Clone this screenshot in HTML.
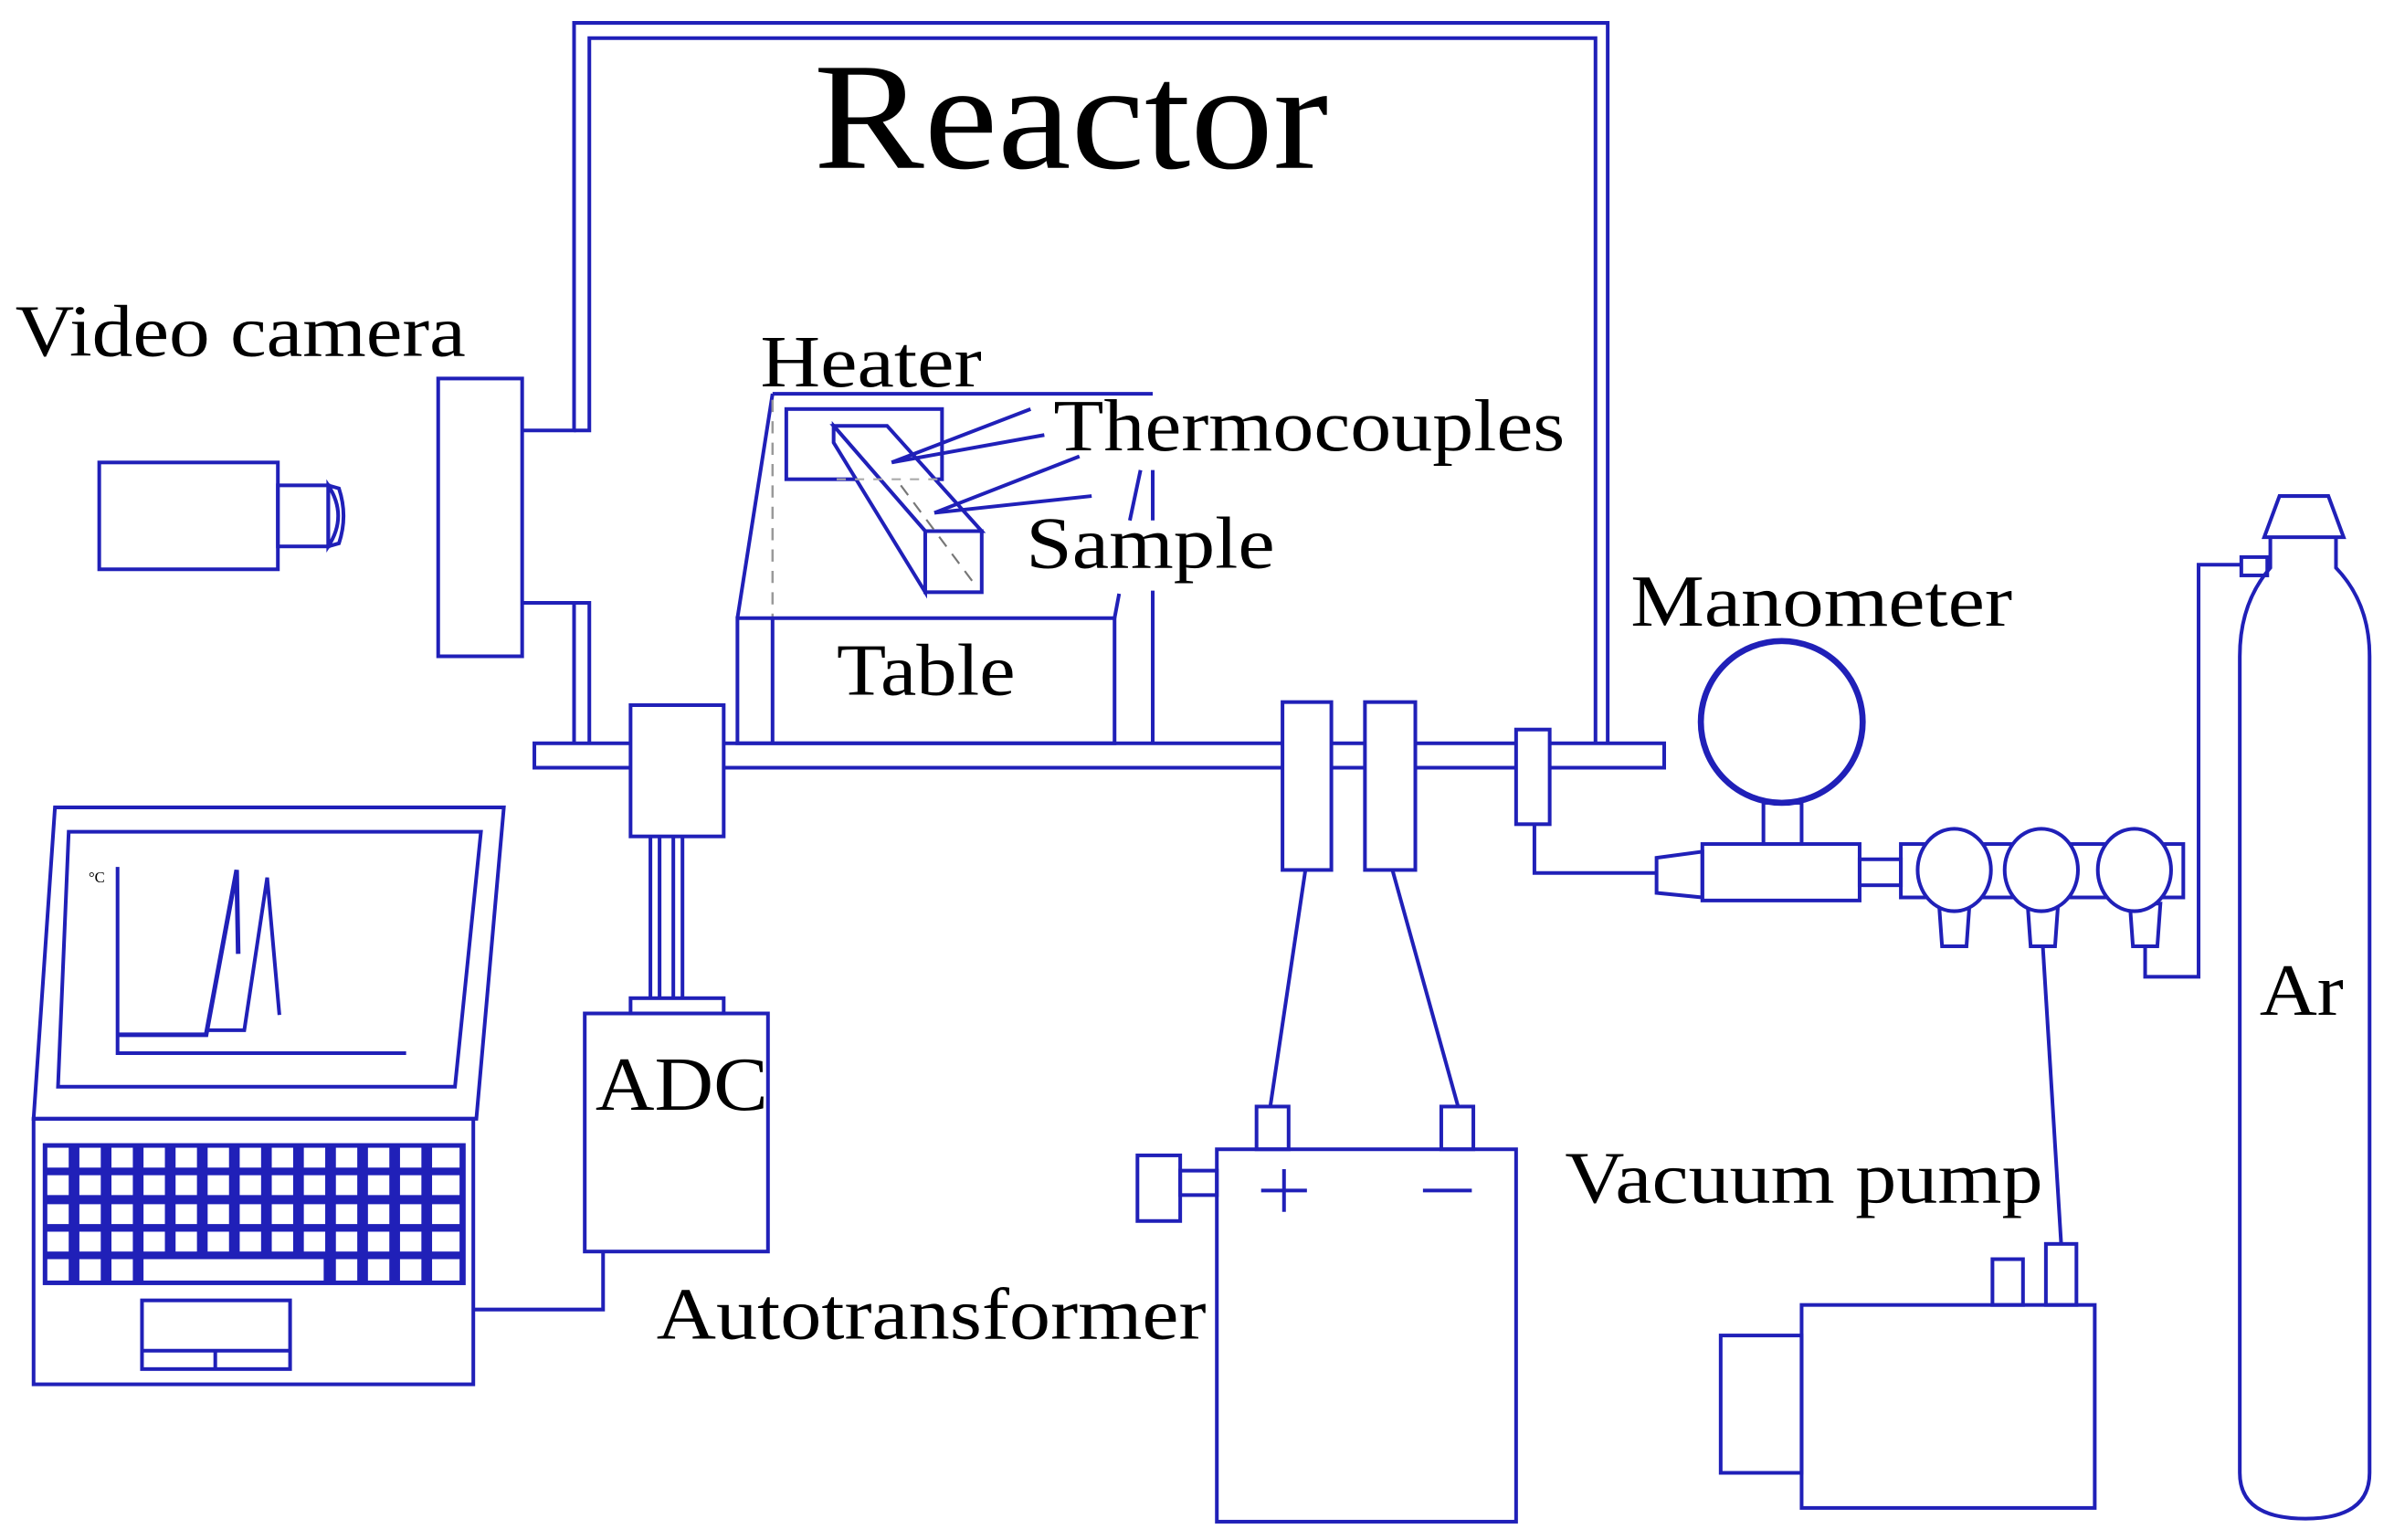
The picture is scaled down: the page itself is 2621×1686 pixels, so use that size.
<!DOCTYPE html>
<html><head><meta charset="utf-8"><style>
html,body{margin:0;padding:0;background:#fff;}
svg{display:block;}
text{font-family:"Liberation Serif",serif;fill:#000;}
</style></head><body>
<svg width="2621" height="1686" viewBox="0 0 1568 1009" preserveAspectRatio="none" xmlns="http://www.w3.org/2000/svg">
<g fill="none" stroke="#2020b8" stroke-width="2.4">
<polyline points="342,282 376,282 376,15 1053,15 1053,487"/>
<polyline points="376,282 386,282 386,25 1045,25 1045,487"/>
<polyline points="342,395 386,395 386,487"/>
<line x1="376" y1="395" x2="376" y2="487"/>
<rect x="287" y="248" width="55" height="182" fill="#fff"/>
<rect x="65" y="303" width="117" height="70"/>
<rect x="182" y="318" width="33" height="40"/>
<path d="M215,318 Q228,338 215,358 Z"/>
<path d="M215,318 L222,320 Q228,338 222,356 L215,358"/>
<rect x="350" y="487" width="740" height="16" fill="#fff"/>
<line x1="506" y1="258" x2="755" y2="258"/>
<line x1="506" y1="258" x2="483" y2="405"/>
<line x1="506" y1="262" x2="506" y2="405" stroke="#999" stroke-dasharray="8,6" stroke-width="1.5"/>
<rect x="483" y="405" width="247" height="82"/>
<line x1="506" y1="405" x2="506" y2="487"/>
<line x1="733" y1="389" x2="730" y2="405"/>
<line x1="755" y1="387" x2="755" y2="487"/>
<line x1="747" y1="308" x2="740" y2="341"/>
<line x1="755" y1="308" x2="755" y2="341"/>
<rect x="515" y="268" width="102" height="46"/>
<polygon points="546,279 581,279 643,348 606,348" fill="#fff"/>
<polygon points="546,279 606,348 606,388 546,290" fill="#fff"/>
<rect x="606" y="348" width="37" height="40" fill="#fff"/>
<line x1="548" y1="314" x2="617" y2="314" stroke="#aaa" stroke-dasharray="6,6" stroke-width="1.3"/>
<line x1="590" y1="318" x2="640" y2="385" stroke="#777" stroke-dasharray="8,6" stroke-width="1.3"/>
<line x1="584" y1="303" x2="675" y2="268"/>
<line x1="584" y1="303" x2="684" y2="285"/>
<line x1="612" y1="336" x2="707" y2="299"/>
<line x1="612" y1="336" x2="715" y2="325"/>
<rect x="413" y="462" width="61" height="86" fill="#fff"/>
<line x1="426" y1="548" x2="426" y2="654"/><line x1="432" y1="548" x2="432" y2="654"/>
<line x1="441" y1="548" x2="441" y2="654"/><line x1="447" y1="548" x2="447" y2="654"/>
<rect x="413" y="654" width="61" height="10"/>
<rect x="383" y="664" width="120" height="156"/>
<polyline points="310,858 395,858 395,820"/>
<polygon points="36,529 330,529 312,733 22,733"/>
<polygon points="45,545 315,545 298,712 38,712"/>
<rect x="22" y="733" width="288" height="174"/>
<rect x="93" y="852" width="97" height="45"/>
<line x1="93" y1="885" x2="190" y2="885"/><line x1="141" y1="885" x2="141" y2="897"/>
<polyline points="77,568 77,690 266,690"/>
<polyline points="77,678 135,678 155,570 156,625" stroke-width="3"/>
<polyline points="135,675 160,675 175,575 183,665"/>
</g>
<rect x="28" y="749" width="277" height="93" fill="#2020b8"/>
<g fill="#fff">
<rect x="31" y="752" width="14" height="13"/><rect x="52" y="752" width="14" height="13"/><rect x="73" y="752" width="14" height="13"/><rect x="94" y="752" width="14" height="13"/><rect x="115" y="752" width="14" height="13"/><rect x="136" y="752" width="14" height="13"/><rect x="157" y="752" width="14" height="13"/><rect x="178" y="752" width="14" height="13"/><rect x="199" y="752" width="14" height="13"/><rect x="220" y="752" width="14" height="13"/><rect x="241" y="752" width="14" height="13"/><rect x="262" y="752" width="14" height="13"/><rect x="283" y="752" width="18" height="13"/>
<rect x="31" y="770" width="14" height="13"/><rect x="52" y="770" width="14" height="13"/><rect x="73" y="770" width="14" height="13"/><rect x="94" y="770" width="14" height="13"/><rect x="115" y="770" width="14" height="13"/><rect x="136" y="770" width="14" height="13"/><rect x="157" y="770" width="14" height="13"/><rect x="178" y="770" width="14" height="13"/><rect x="199" y="770" width="14" height="13"/><rect x="220" y="770" width="14" height="13"/><rect x="241" y="770" width="14" height="13"/><rect x="262" y="770" width="14" height="13"/><rect x="283" y="770" width="18" height="13"/>
<rect x="31" y="789" width="14" height="13"/><rect x="52" y="789" width="14" height="13"/><rect x="73" y="789" width="14" height="13"/><rect x="94" y="789" width="14" height="13"/><rect x="115" y="789" width="14" height="13"/><rect x="136" y="789" width="14" height="13"/><rect x="157" y="789" width="14" height="13"/><rect x="178" y="789" width="14" height="13"/><rect x="199" y="789" width="14" height="13"/><rect x="220" y="789" width="14" height="13"/><rect x="241" y="789" width="14" height="13"/><rect x="262" y="789" width="14" height="13"/><rect x="283" y="789" width="18" height="13"/>
<rect x="31" y="807" width="14" height="13"/><rect x="52" y="807" width="14" height="13"/><rect x="73" y="807" width="14" height="13"/><rect x="94" y="807" width="14" height="13"/><rect x="115" y="807" width="14" height="13"/><rect x="136" y="807" width="14" height="13"/><rect x="157" y="807" width="14" height="13"/><rect x="178" y="807" width="14" height="13"/><rect x="199" y="807" width="14" height="13"/><rect x="220" y="807" width="14" height="13"/><rect x="241" y="807" width="14" height="13"/><rect x="262" y="807" width="14" height="13"/><rect x="283" y="807" width="18" height="13"/>
<rect x="31" y="825" width="14" height="14"/><rect x="52" y="825" width="14" height="14"/><rect x="73" y="825" width="14" height="14"/><rect x="94" y="825" width="118" height="14"/><rect x="220" y="825" width="14" height="14"/><rect x="241" y="825" width="14" height="14"/><rect x="262" y="825" width="14" height="14"/><rect x="283" y="825" width="18" height="14"/>
</g>
<g fill="none" stroke="#2020b8" stroke-width="2.4">
<rect x="840" y="460" width="32" height="110" fill="#fff"/>
<rect x="894" y="460" width="33" height="110" fill="#fff"/>
<line x1="855" y1="570" x2="832" y2="725"/>
<line x1="912" y1="570" x2="955" y2="725"/>
<rect x="823" y="725" width="21" height="28"/>
<rect x="944" y="725" width="21" height="28"/>
<rect x="797" y="753" width="196" height="244"/>
<rect x="773" y="767" width="24" height="16"/>
<rect x="745" y="757" width="28" height="43"/>
<line x1="826" y1="780" x2="856" y2="780"/><line x1="841" y1="766" x2="841" y2="794"/>
<line x1="932" y1="780" x2="964" y2="780"/>
<rect x="993" y="478" width="22" height="62" fill="#fff"/>
<polyline points="1005,540 1005,572 1085,572"/>
<polygon points="1085,562 1115,558 1115,588 1085,585"/>
<rect x="1115" y="553" width="103" height="37"/>
<circle cx="1167" cy="473" r="53" stroke-width="4"/>
<rect x="1155" y="526" width="25" height="27"/>
<rect x="1218" y="563" width="27" height="17"/>
<rect x="1245" y="553" width="185" height="35"/>
<g fill="#fff">
<path d="M1270,592 L1290,592 L1288,620 L1272,620 Z"/>
<path d="M1328,592 L1348,592 L1346,620 L1330,620 Z"/>
<path d="M1395,592 L1415,592 L1413,620 L1397,620 Z"/>
<ellipse cx="1280" cy="570" rx="24" ry="27"/>
<ellipse cx="1337" cy="570" rx="24" ry="27"/>
<ellipse cx="1398" cy="570" rx="24" ry="27"/>
</g>
<line x1="1338" y1="620" x2="1350" y2="815"/>
<polyline points="1405,620 1405,640 1440,640 1440,370 1468,370"/>
<rect x="1468" y="365" width="17" height="12"/>
<path d="M1487,352 L1487,372 Q1467,395 1467,430 L1467,965 Q1467,995 1510,995 Q1552,995 1552,965 L1552,430 Q1552,395 1530,372 L1530,352"/>
<polygon points="1493,325 1525,325 1535,352 1483,352"/>
<rect x="1180" y="855" width="192" height="133"/>
<rect x="1127" y="875" width="53" height="90"/>
<rect x="1305" y="825" width="20" height="30"/>
<rect x="1340" y="815" width="20" height="40"/>
</g>
<g>
<text x="533" y="110" font-size="100" textLength="337" lengthAdjust="spacingAndGlyphs">Reactor</text>
<text x="10" y="233" font-size="48" textLength="295" lengthAdjust="spacingAndGlyphs">Video camera</text>
<text x="498" y="253" font-size="48" textLength="145" lengthAdjust="spacingAndGlyphs">Heater</text>
<text x="690" y="295" font-size="48" textLength="335" lengthAdjust="spacingAndGlyphs">Thermocouples</text>
<text x="672" y="372" font-size="48" textLength="163" lengthAdjust="spacingAndGlyphs">Sample</text>
<text x="548" y="455" font-size="48" textLength="117" lengthAdjust="spacingAndGlyphs">Table</text>
<text x="1068" y="410" font-size="48" textLength="250" lengthAdjust="spacingAndGlyphs">Manometer</text>
<text x="390" y="727" font-size="50" textLength="113" lengthAdjust="spacingAndGlyphs">ADC</text>
<text x="430" y="877" font-size="48" textLength="360" lengthAdjust="spacingAndGlyphs">Autotransformer</text>
<text x="1025" y="788" font-size="48" textLength="313" lengthAdjust="spacingAndGlyphs">Vacuum pump</text>
<text x="1480" y="665" font-size="48" textLength="55" lengthAdjust="spacingAndGlyphs">Ar</text>
<text x="58" y="578" font-size="10">°C</text>
</g>
</svg>
</body></html>
